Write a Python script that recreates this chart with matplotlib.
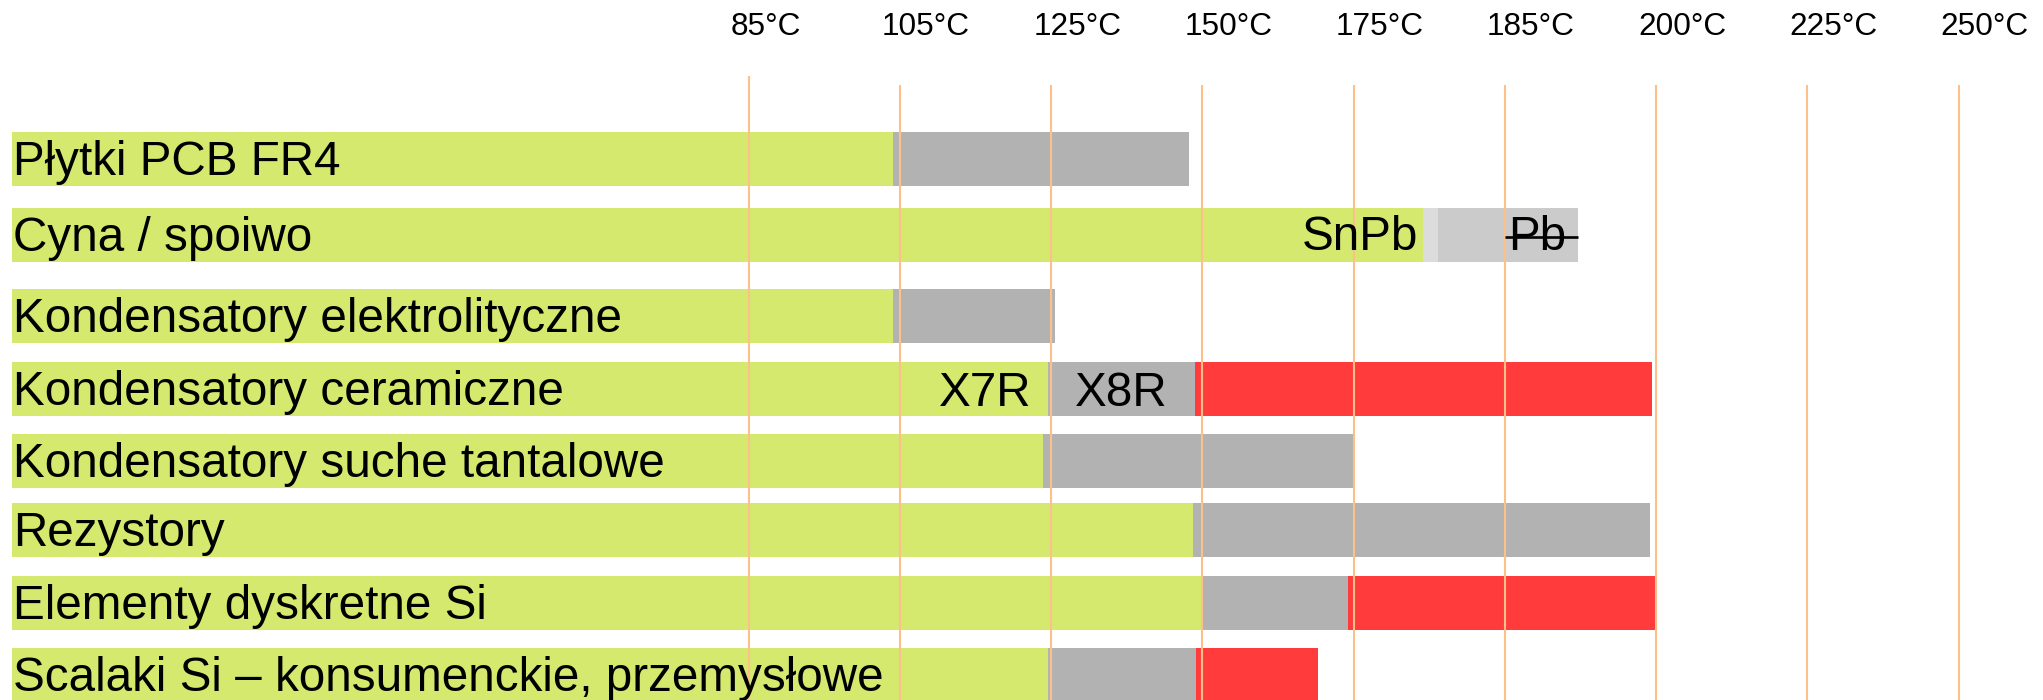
import numpy as np
import matplotlib
matplotlib.use("Agg")
import matplotlib.pyplot as plt
from matplotlib import transforms

plt.rcParams["font.family"] = ["Liberation Sans", "DejaVu Sans"]

# --- data ---------------------------------------------------------------
tick_temps = [85, 105, 125, 150, 175, 185, 200, 225, 250]
tick_labels = [f"{t}°C" for t in tick_temps]

categories = [
    "Płytki PCB FR4",
    "Cyna / spoiwo",
    "Kondensatory elektrolityczne",
    "Kondensatory ceramiczne",
    "Kondensatory suche tantalowe",
    "Rezystory",
    "Elementy dyskretne Si",
    "Scalaki Si – konsumenckie, przemysłowe",
]
# upper limit of each zone in °C (None = zone absent)
green_end = [104.1, 179.6, 104.1, 124.6, 123.9, 148.4, 149.8, 124.6]
gray_end = [147.7, None, 125.6, 148.8, 175.0, 199.4, 174.1, 148.9]
red_end = [None, None, None, 199.6, None, None, 200.2, 169.1]

# solder row: SnPb melting gap and lead-based range
solder_gap_end = 180.6
solder_pb_end = 192.2

# --- layout -------------------------------------------------------------
W, H, DPI = 2043, 700, 100
row_center = [158.8, 234.8, 315.8, 388.8, 460.8, 529.8, 602.8, 674.8]
bar_h = 53.7
bar_start = -12.4
slot_px, slot0_px = 151.25, 748.7

GREEN = "#d5e96e"
GRAY = "#b2b2b2"
GAP = "#dcdcdc"
LIGHT = "#cbcbcb"
RED = "#ff3b3b"
GRID = "#fdc08a"

idx = np.arange(len(tick_temps), dtype=float)


def fwd(t):
    t = np.asarray(t, dtype=float)
    s = np.interp(t, tick_temps, idx)
    s = np.where(t < tick_temps[0], (t - tick_temps[0]) / 20.0, s)
    s = np.where(t > tick_temps[-1], idx[-1] + (t - tick_temps[-1]) / 25.0, s)
    return s


def inv(s):
    s = np.asarray(s, dtype=float)
    t = np.interp(s, idx, tick_temps)
    t = np.where(s < 0, tick_temps[0] + s * 20.0, t)
    t = np.where(s > idx[-1], tick_temps[-1] + (s - idx[-1]) * 25.0, t)
    return t


fig = plt.figure(figsize=(W / DPI, H / DPI), dpi=DPI)
ax = fig.add_axes([0, 0, 1, 1])
ax.set_xscale("function", functions=(fwd, inv))
ax.set_xlim(float(inv((0 - slot0_px) / slot_px)), float(inv((W - slot0_px) / slot_px)))
ax.set_ylim(H, 0)
ax.axis("off")

# --- bars ---------------------------------------------------------------
for y, g, gr, r in zip(row_center, green_end, gray_end, red_end):
    ax.barh(y, g - bar_start, left=bar_start, height=bar_h, color=GREEN, lw=0, zorder=1)
    if gr is not None:
        ax.barh(y, gr - g, left=g, height=bar_h, color=GRAY, lw=0, zorder=1)
    if r is not None:
        ax.barh(y, r - gr, left=gr, height=bar_h, color=RED, lw=0, zorder=1)

# solder row extras
ys = row_center[1]
ax.barh(ys, solder_gap_end - green_end[1], left=green_end[1], height=bar_h,
        color=GAP, lw=0, zorder=1)
ax.barh(ys, solder_pb_end - solder_gap_end, left=solder_gap_end, height=bar_h,
        color=LIGHT, lw=0, zorder=1)

# --- vertical guide lines ----------------------------------------------
for i, t in enumerate(tick_temps):
    top = 76 if i == 0 else 85
    ax.vlines(t, top, H, color=GRID, lw=1.5, zorder=3)

# --- text ---------------------------------------------------------------
FS = 34.3
FS_TICK = 22.7


def off(dx):
    return transforms.offset_copy(ax.transData, fig=fig, x=dx, y=0, units="dots")


for t, lab in zip(tick_temps, tick_labels):
    ax.text(t, 35, lab, transform=off(-18), ha="left", va="baseline",
            fontsize=FS_TICK, color="black", zorder=5)

label_tr = transforms.blended_transform_factory(ax.transAxes, ax.transData)
for y, name in zip(row_center, categories):
    ax.text(13 / W, y + 16.5, name, transform=label_tr, ha="left", va="baseline",
            fontsize=FS, color="black", zorder=5)

# inline annotations
ax.text(green_end[1], ys + 15.5, "SnPb", transform=off(-5), ha="right",
        va="baseline", fontsize=FS, zorder=5)
ax.text(185, ys + 15.5, "Pb", transform=off(3), ha="left",
        va="baseline", fontsize=FS, zorder=5)
ax.plot([185, solder_pb_end], [ys + 2, ys + 2], color="black", lw=1.9,
        solid_capstyle="butt", zorder=6)

yc = row_center[3]
ax.text(green_end[3], yc + 17, "X7R", transform=off(-17), ha="right",
        va="baseline", fontsize=FS, zorder=5)
x8r_mid = float(inv((fwd(green_end[3]) + fwd(gray_end[3])) / 2))
ax.text(x8r_mid, yc + 17, "X8R", ha="center", va="baseline", fontsize=FS, zorder=5)

fig.savefig("out.png", dpi=DPI, facecolor="white")
